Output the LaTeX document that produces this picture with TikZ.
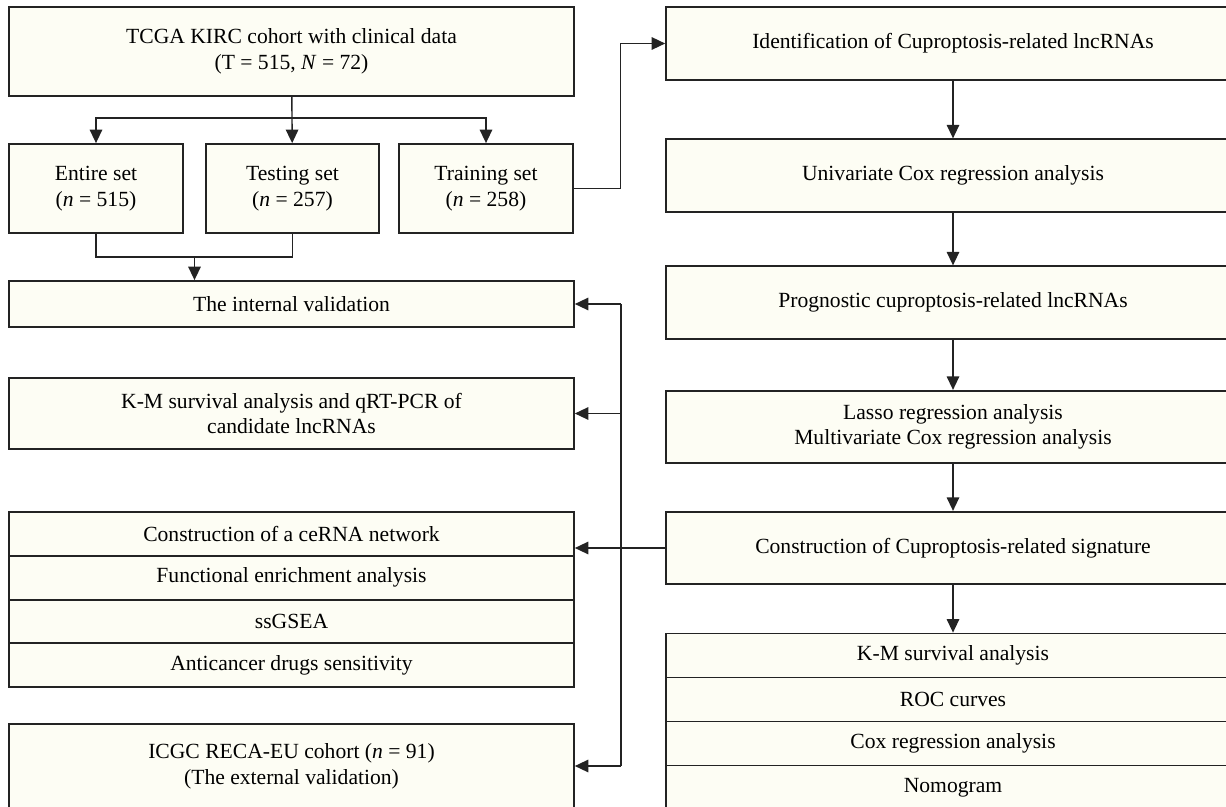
\documentclass[tikz,border=0pt]{standalone}
\usepackage{fontspec}
\setmainfont{Liberation Serif}
\usepackage{tikz}
\usetikzlibrary{arrows.meta}
\definecolor{boxfill}{RGB}{253,253,244}
\definecolor{boxline}{RGB}{35,35,35}
\newcommand{\boxfont}{\fontsize{12.3}{14.6}\selectfont}
\tikzset{
  box/.style={rectangle, draw=boxline, fill=boxfill, line width=1pt,
    align=center, inner sep=0pt, font=\boxfont},
  lbox/.style={box, minimum width=11.3cm},
  rbox/.style={box, minimum width=11.48cm, minimum height=1.45cm},
  setbox/.style={box, minimum width=3.47cm, minimum height=1.78cm},
  lrow/.style={lbox, minimum height=0.875cm},
  rrow/.style={box, minimum width=11.48cm, minimum height=0.88cm},
  arrow/.style={-{Triangle[length=0.27cm, width=0.25cm]}, line width=0.8pt, color=boxline},
  line/.style={line width=0.8pt, color=boxline}
}

\begin{document}
\begin{tikzpicture}[x=0.02cm, y=-0.02cm]
  \useasboundingbox (0,0) rectangle (1226,807);
  % ── Left column: cohort and validation ─────────────────────────────────────
  \node[lbox, minimum height=1.78cm] (tcga) at (291.5,51.5)
    {TCGA KIRC cohort with clinical data\\(T = 515, \textit{N} = 72)};
  \node[setbox] (entire) at (96,188.5) {Entire set\\(\textit{n} = 515)};
  \node[setbox] (testing) at (292.5,188.5) {Testing set\\(\textit{n} = 257)};
  \node[setbox] (training) at (486,188.5) {Training set\\(\textit{n} = 258)};
  \node[lbox, minimum height=0.92cm] (internal) at (291.5,304) {The internal validation};
  \node[lbox, minimum height=1.42cm] (km) at (291.5,413.5)
    {K-M survival analysis and qRT-PCR of\\candidate lncRNAs};
  % stacked analyses
  \node[lrow] (cerna) at (291.5,534) {Construction of a ceRNA network};
  \node[lrow] (enrich) at (291.5,577.75) {Functional enrichment analysis};
  \node[lrow] (ssgsea) at (291.5,621.5) {ssGSEA};
  \node[lrow] (drugs) at (291.5,665.25) {Anticancer drugs sensitivity};
  \node[lbox, minimum height=1.68cm] (external) at (291.5,766)
    {ICGC RECA-EU cohort (\textit{n} = 91)\\(The external validation)};

  % ── Right column: signature construction ──────────────────────────────────
  \node[rbox] (ident) at (953,43.5) {Identification of Cuproptosis-related lncRNAs};
  \node[rbox] (univ) at (953,175.5) {Univariate Cox regression analysis};
  \node[rbox] (prog) at (953,302.5) {Prognostic cuproptosis-related lncRNAs};
  \node[rbox] (lasso) at (953,427)
    {Lasso regression analysis\\Multivariate Cox regression analysis};
  \node[rbox] (sig) at (953,548) {Construction of Cuproptosis-related signature};
  \node[rrow] (kmsurv) at (953,655.5) {K-M survival analysis};
  \node[rrow] (roc) at (953,699.5) {ROC curves};
  \node[rrow] (coxreg) at (953,743.5) {Cox regression analysis};
  \node[rrow] (nomo) at (953,787.5) {Nomogram};

  % ── Connectors ─────────────────────────────────────────────────────────────
  \coordinate (fork) at (292,118);
  \draw[line] (tcga) -- (fork);
  \draw[arrow] (fork) -- (testing);
  \draw[arrow] (fork) -| (entire);
  \draw[arrow] (fork) -| (training);
  \coordinate (merge) at (194.5,257);
  \draw[line] (entire.south) |- (merge) -| (testing.south);
  \draw[arrow] (merge) -- (merge |- internal.north);
  \draw[arrow] (training.east) -- ++(47,0) |- (ident);
  \draw[arrow] (ident) -- (univ);
  \draw[arrow] (univ) -- (prog);
  \draw[arrow] (prog) -- (lasso);
  \draw[arrow] (lasso) -- (sig);
  \draw[arrow] (sig) -- (kmsurv);
  % validation bus
  \coordinate (bustop) at (621,304);
  \coordinate (busbot) at (621,766);
  \draw[line] (bustop) -- (busbot);
  \draw[arrow] (bustop) -- (internal);
  \draw[arrow] (bustop |- km) -- (km);
  \draw[arrow] (busbot) -- (external);
  \draw[arrow] (sig.west) -- (sig.west -| cerna.east);
\end{tikzpicture}
\end{document}
